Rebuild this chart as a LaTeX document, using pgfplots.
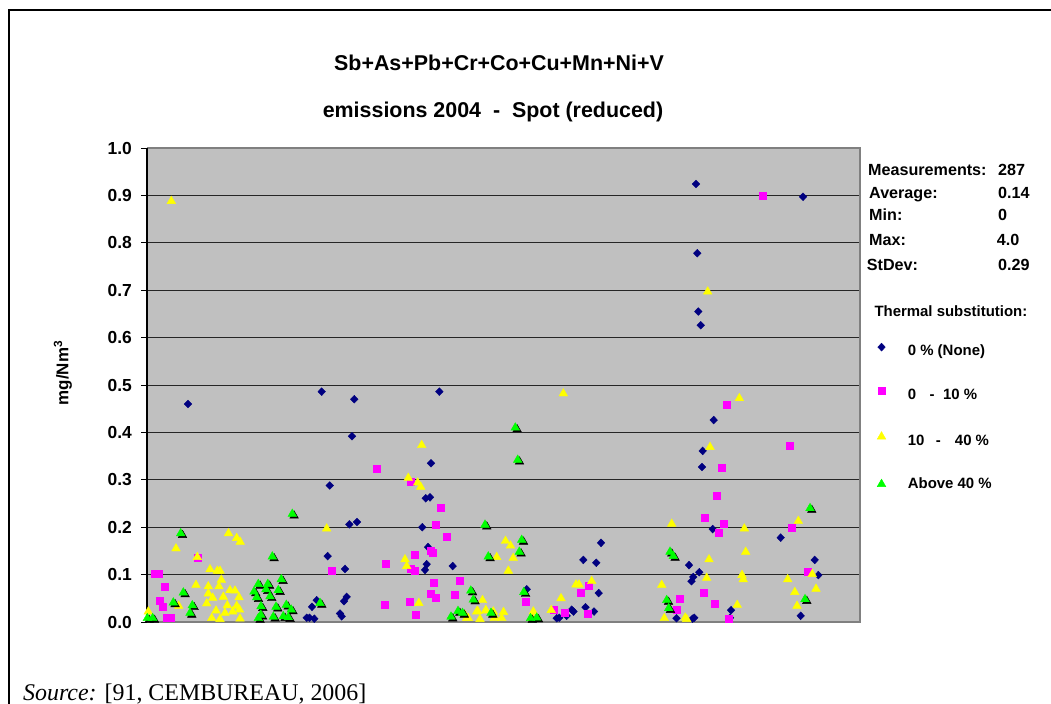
\documentclass[border=0pt]{standalone}
\usepackage{fontspec}
\setmainfont{Liberation Sans}
\newfontfamily\serifsrc{Liberation Serif}
\usepackage{pgfplots}
\usepackage{pgfplotstable}
\pgfplotsset{compat=1.18}
\pgfplotsset{mylegimg/.style={legend image code/.code={\draw[##1] plot coordinates {(0bp,4.5bp)};}},
  mylegimgz/.style={legend image code/.code={\draw[##1] plot coordinates {(0bp,0bp)};}}}
\definecolor{bgray}{HTML}{C0C0C0}
\definecolor{navyc}{HTML}{000080}
\definecolor{magc}{HTML}{FF00FF}
\definecolor{yelc}{HTML}{FFFF00}
\definecolor{grnc}{HTML}{00FF00}
\definecolor{bordgray}{HTML}{808080}

\pgfplotstableread{
x y
188 0.460
321.7 0.486
354.3 0.470
352 0.392
329.7 0.288
349.3 0.206
357 0.211
431 0.335
425.7 0.261
430 0.263
439.3 0.486
422.3 0.200
428 0.158
426.7 0.122
425 0.110
327.7 0.139
345 0.112
452.7 0.118
346.7 0.053
344 0.044
316.7 0.046
312 0.032
340 0.018
341.7 0.012
306.7 0.009
309.5 0.009
314.3 0.007
526.7 0.069
556.7 0.008
559.3 0.009
566.7 0.013
713.7 0.426
702.7 0.361
702 0.327
712.7 0.196
780.7 0.178
601 0.167
583.3 0.131
596.3 0.125
814.7 0.131
818.3 0.099
689 0.120
699.3 0.105
693.3 0.095
691.5 0.086
598.7 0.061
585.5 0.031
594 0.022
571.7 0.026
573.5 0.022
731 0.025
730 0.009
676.5 0.008
692.5 0.007
694.2 0.009
800.7 0.013
696 0.924
803 0.897
697.3 0.778
698.3 0.655
700.7 0.626
}\navydata

\pgfplotstableread{
x y
376.3 0.324
411 0.295
441 0.241
436 0.205
446.7 0.179
415 0.143
430.5 0.151
432.7 0.147
385.5 0.124
331.3 0.109
410.8 0.112
414.5 0.109
459.3 0.088
433.3 0.083
431 0.059
435.2 0.052
455 0.057
384.3 0.036
409.3 0.042
416 0.015
154.7 0.101
158.3 0.101
165 0.075
160 0.044
162.3 0.033
166.7 0.010
170.7 0.010
197.3 0.136
726.3 0.459
789.3 0.371
721.3 0.326
716.5 0.266
705 0.220
723.3 0.207
719 0.189
791.7 0.199
807.2 0.106
703.5 0.062
714.2 0.039
728.5 0.008
679.2 0.049
676.7 0.025
525.7 0.042
588.3 0.076
580.3 0.062
587.7 0.018
565 0.020
553.3 0.025
762.3 0.899
}\magdata

\pgfplotstableread{
x y
171.3 0.888
421.7 0.373
408.3 0.304
417.7 0.294
420.7 0.285
326.7 0.197
228.5 0.187
236.7 0.177
240.2 0.169
176 0.155
197.3 0.137
210 0.111
217.3 0.108
220 0.108
405 0.132
406.7 0.118
196 0.078
208.3 0.075
221.3 0.089
219 0.075
230 0.067
235 0.066
208.3 0.060
212.7 0.051
223.3 0.053
239 0.052
206.7 0.039
178.7 0.034
227.3 0.035
236.7 0.034
216 0.024
225 0.019
232.7 0.022
239.5 0.026
211.7 0.008
220 0.006
240 0.007
148.3 0.022
418.8 0.040
482.5 0.046
496.7 0.137
465 0.015
468.3 0.008
476.7 0.022
485.7 0.025
480 0.006
495 0.010
505.5 0.171
510.5 0.161
513.2 0.135
508.3 0.108
561 0.050
551.2 0.025
466.7 0.008
477.7 0.023
486 0.024
493.3 0.022
503.5 0.021
501.7 0.008
494.3 0.008
533.3 0.022
532.7 0.008
563.3 0.482
739.3 0.472
710 0.369
671.7 0.207
744.3 0.197
798.3 0.213
745.7 0.148
709 0.132
706.7 0.093
742 0.099
743.2 0.090
661.7 0.078
787.7 0.090
812.2 0.101
794.8 0.063
816 0.070
797 0.034
737.2 0.036
664.3 0.008
685.2 0.009
686.7 0.006
576 0.079
579 0.079
591.7 0.086
707.7 0.697
}\yeldata

\pgfplotstableread{
x y
180.7 0.187
292.3 0.228
272.3 0.138
485 0.205
488.3 0.138
183.3 0.062
173.3 0.041
192.3 0.035
190 0.019
152.7 0.008
147.3 0.008
258.3 0.080
267.8 0.080
281.3 0.090
254 0.064
266 0.069
278.3 0.067
256.7 0.052
270 0.054
261 0.033
276 0.032
286.3 0.036
291.2 0.026
260.8 0.015
273.3 0.011
283.3 0.012
288.3 0.010
258.3 0.008
320 0.040
451 0.011
458 0.023
462.5 0.019
470.8 0.066
473.3 0.047
491 0.019
515.3 0.410
517.7 0.342
521.7 0.173
519.3 0.148
523.8 0.063
670 0.148
673.3 0.139
666.7 0.046
668.7 0.029
810 0.240
805 0.048
530.5 0.008
536.7 0.009
}\grndata

\begin{document}
\begin{tikzpicture}[x=1bp,y=-1bp]
\path[use as bounding box] (0,0) rectangle (1051,704);
\draw[line width=2bp] (8.5,704) -- (8.5,10) -- (1051,10);

\begin{axis}[
  at={(147bp,-622bp)}, anchor=south west,
  scale only axis, width=713bp, height=474bp,
  xmin=147, xmax=860, ymin=0, ymax=1,
  xtick=\empty,
  ytick={0,0.1,0.2,0.3,0.4,0.5,0.6,0.7,0.8,0.9,1.0},
  ytick pos=left,
  tick align=outside,
  major tick length=6bp,
  tick style={black, line width=1bp},
  axis line style={draw=none},
  axis background/.style={fill=bgray},
  ymajorgrids,
  grid style={black!85, line width=0.9bp},
  yticklabel style={font=\fontsize{17.5}{20}\selectfont\bfseries, inner xsep=9bp},
  /pgf/number format/.cd, fixed, fixed zerofill, precision=1, assume math mode=true,
  /pgfplots/.cd,
  clip=false,
  legend cell align=left,
  legend style={at={(axis description cs:1.0238,0.5886)}, anchor=north west,
    draw=none, fill=none, inner sep=0pt, row sep=29bp,
    font=\fontsize{15}{18}\selectfont\bfseries,
    nodes={inner sep=0pt, text height=11bp, text depth=3bp},
    /tikz/every odd column/.append style={column sep=22bp}},
]
\draw[bordgray, line width=1.8bp] (rel axis cs:0,0) -- (rel axis cs:1,0) -- (rel axis cs:1,1) -- (rel axis cs:0,1);
\draw[black, line width=1.3bp] (rel axis cs:0,0) -- (rel axis cs:0,1);

\addplot[only marks, mark=diamond*, mark size=3.9bp, mark options={xscale=1.3}, color=navyc, mylegimg] table {\navydata};
\addlegendentry{0 \% (None)}
\addplot[only marks, mark=square*, mark size=3.5bp, color=magc, mylegimg] table {\magdata};
\addlegendentry{0\hspace{13.5bp}-\hspace{8.5bp}10 \%}
\addplot[only marks, mark=triangle*, mark size=5bp, color=yelc, mylegimg] table {\yeldata};
\addlegendentry{10\hspace{11.5bp}-\hspace{14bp}40 \%}
\addplot[only marks, mark=triangle*, mark size=5bp, color=black, forget plot,
  mark options={xshift=1.8bp, yshift=-1.8bp}] table {\grndata};
\addplot[only marks, mark=triangle*, mark size=5bp, color=grnc, mylegimgz] table {\grndata};
\addlegendentry{Above 40 \%}
\end{axis}

% titles
\node[font=\fontsize{21.5}{24}\selectfont\bfseries, anchor=base] at (499,71) {Sb+As+Pb+Cr+Co+Cu+Mn+Ni+V};
\node[font=\fontsize{21.5}{24}\selectfont\bfseries, anchor=base] at (493,117.5) {emissions 2004\ \ -\ \ Spot (reduced)};
% y label
\node[font=\fontsize{17}{20}\selectfont\bfseries, rotate=90, anchor=center] at (63,373) {mg/Nm\textsuperscript{3}};
% statistics
\begin{scope}[every node/.style={font=\fontsize{16.2}{19}\selectfont\bfseries, anchor=base west, inner sep=0pt}]
\node at (868,176) {Measurements:};
\node at (998,176) {287};
\node at (869,198.3) {Average:};
\node at (998,198.3) {0.14};
\node at (869,220) {Min:};
\node at (998,220) {0};
\node at (869,245) {Max:};
\node at (996.7,245) {4.0};
\node at (866.7,270) {StDev:};
\node at (998,270) {0.29};
\end{scope}
\node[font=\fontsize{15}{18}\selectfont\bfseries, anchor=base west, inner sep=0pt] at (874.3,316.5) {Thermal substitution:};
% source
\node[font=\serifsrc\fontsize{24}{28}\selectfont, anchor=base west, inner sep=0pt] at (23,700) {\textit{Source:} [91, CEMBUREAU, 2006]};
\end{tikzpicture}
\end{document}
